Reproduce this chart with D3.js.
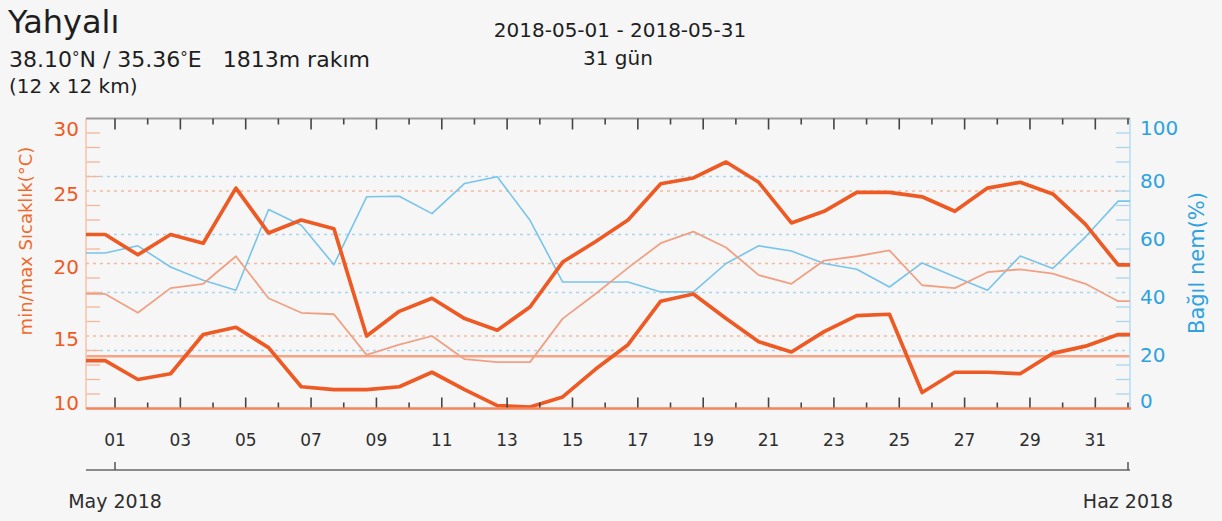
<!DOCTYPE html>
<html>
<head>
<meta charset="utf-8">
<script src="https://cdn.jsdelivr.net/npm/d3@7"></script>
<style>
	body { margin: 0; background: #f6f6f6; }
	svg { display: block; font-family: "DejaVu Sans", sans-serif; }
</style>
</head>
<body>
<svg id="svgChart" width="1222" height="521"></svg>
<script>
// Chart data (one value per day, May 1 .. June 1)
var dayLabels = ["01","03","05","07","09","11","13","15","17","19","21","23","25","27","29","31"];
var tempMax = [22.0, 20.6, 22.0, 21.4, 25.2, 22.1, 23.0, 22.4, 15.0, 16.7, 17.6, 16.2, 15.4, 17.0, 20.1, 21.5,
	23.0, 25.5, 25.9, 27.0, 25.6, 22.8, 23.6, 24.9, 24.9, 24.6, 23.6, 25.2, 25.6, 24.8, 22.7, 19.9];
var tempMean = [17.9, 16.6, 18.3, 18.6, 20.5, 17.6, 16.6, 16.5, 13.7, 14.4, 15.0, 13.4, 13.2, 13.2, 16.2, 17.9,
	19.7, 21.4, 22.2, 21.1, 19.2, 18.6, 20.2, 20.5, 20.9, 18.5, 18.3, 19.4, 19.6, 19.3, 18.6, 17.4];
var tempMin = [13.3, 12.0, 12.4, 15.1, 15.6, 14.2, 11.5, 11.3, 11.3, 11.5, 12.5, 11.3, 10.2, 10.1, 10.8, 12.7,
	14.4, 17.4, 17.9, 16.2, 14.6, 13.9, 15.3, 16.4, 16.5, 11.1, 12.5, 12.5, 12.4, 13.8, 14.3, 15.1];
var humidity = [53.6, 56.1, 48.8, 44.2, 40.8, 68.6, 63.2, 49.6, 73.0, 73.2, 67.2, 77.6, 79.9, 64.9, 43.6, 43.6,
	43.6, 40.2, 40.2, 50.0, 56.1, 54.3, 50.0, 48.0, 41.9, 50.2, 45.4, 40.8, 52.6, 48.3, 59.2, 71.5];
var tempTicks = [10, 15, 20, 25, 30];
var humTicks = [0, 20, 40, 60, 80, 100];
var refTemp = 13.6;

var wx = [];
wx.plot = {left: 86, right: 1130, top: 118.5, bottom: 408.5};
wx.orange = "#ee5a24";
wx.blue = "#2ea2e0";

wx.init = () => {
	let svg = d3.select("#svgChart");
	let p = wx.plot;

	// Scales
	let x = d3.scaleLinear().domain([1, 32]).range([115, 1128]),
		yT = d3.scaleLinear().domain([10, 30]).range([p.bottom, p.top]),
		yH = d3.scaleLinear().domain([0, 100]).range([p.bottom, p.top]);

	wx.drawHeader(svg);

	// Grid lines
	svg.selectAll(".gridH")
		.data([20, 40, 60, 80])
		.enter()
		.append("line")
		.attr("x1", p.left).attr("x2", p.right)
		.attr("y1", d => yH(d)).attr("y2", d => yH(d))
		.style("stroke", "#a9d5ee")
		.style("stroke-width", 1.5)
		.style("stroke-dasharray", "3,4");

	svg.selectAll(".gridT")
		.data([15, 20, 25])
		.enter()
		.append("line")
		.attr("x1", p.left).attr("x2", p.right)
		.attr("y1", d => yT(d)).attr("y2", d => yT(d))
		.style("stroke", "#f3b99c")
		.style("stroke-width", 1.5)
		.style("stroke-dasharray", "3,4");

	// Reference line
	svg.append("line")
		.attr("x1", p.left).attr("x2", p.right)
		.attr("y1", yT(refTemp)).attr("y2", yT(refTemp))
		.style("stroke", "#f6a386")
		.style("stroke-width", 2.5);

	// Minor ticks on the side axes
	let minorT = d3.range(11, 30).filter(d => d % 5 != 0);
	svg.selectAll(".mtT")
		.data(minorT)
		.enter()
		.append("line")
		.attr("x1", p.left).attr("x2", p.left + 14)
		.attr("y1", d => yT(d)).attr("y2", d => yT(d))
		.style("stroke", "#f5b59a")
		.style("stroke-width", 1.3);

	let minorH = d3.range(5, 100, 5).filter(d => d % 20 != 0);
	svg.selectAll(".mtH")
		.data(minorH)
		.enter()
		.append("line")
		.attr("x1", p.right - 14).attr("x2", p.right)
		.attr("y1", d => yH(d)).attr("y2", d => yH(d))
		.style("stroke", "#a9d5ee")
		.style("stroke-width", 1.3);

	// Axis lines
	svg.append("line")
		.attr("x1", p.left).attr("x2", p.left)
		.attr("y1", p.top).attr("y2", p.bottom)
		.style("stroke", "#f7c2aa").style("stroke-width", 1.5);
	svg.append("line")
		.attr("x1", p.right).attr("x2", p.right)
		.attr("y1", p.top).attr("y2", p.bottom)
		.style("stroke", "#b5dcf2").style("stroke-width", 1.5);

	// Series
	svg.append("clipPath").attr("id", "plotClip")
		.append("rect")
		.attr("x", p.left).attr("y", p.top - 5)
		.attr("width", p.right - p.left).attr("height", p.bottom - p.top + 10);

	let g = svg.append("g").attr("clip-path", "url(#plotClip)");
	wx.drawSeries(g, x, yH, humidity, "#78c4ea", 1.6);
	wx.drawSeries(g, x, yT, tempMean, "#f0a184", 1.8);
	wx.drawSeries(g, x, yT, tempMax, wx.orange, 3.7);
	wx.drawSeries(g, x, yT, tempMin, wx.orange, 3.7);

	// Top and bottom axes
	svg.append("line")
		.attr("x1", p.left).attr("x2", p.right)
		.attr("y1", p.top).attr("y2", p.top)
		.style("stroke", "#9a9a9a").style("stroke-width", 2);
	svg.append("line")
		.attr("x1", p.left).attr("x2", p.right + 1)
		.attr("y1", p.bottom).attr("y2", p.bottom)
		.style("stroke", "#f3845c").style("stroke-width", 2.5);

	let days = d3.range(1, 33);
	svg.selectAll(".tickTop")
		.data(days)
		.enter()
		.append("line")
		.attr("x1", d => x(d)).attr("x2", d => x(d))
		.attr("y1", p.top).attr("y2", d => p.top + (d % 2 ? 11 : 6))
		.style("stroke", "#444").style("stroke-width", 1.6);
	svg.selectAll(".tickBottom")
		.data(days)
		.enter()
		.append("line")
		.attr("x1", d => x(d)).attr("x2", d => x(d))
		.attr("y1", p.bottom - 1).attr("y2", d => p.bottom - (d % 2 ? 11 : 6))
		.style("stroke", "#444").style("stroke-width", 1.6);

	// Day labels
	svg.selectAll(".dayLbl")
		.data(dayLabels)
		.enter()
		.append("text")
		.attr("x", d => x(+d))
		.attr("y", 446)
		.style("text-anchor", "middle")
		.style("font-size", "17px")
		.style("fill", "#2e2e2e")
		.text(d => d);

	// Side labels
	svg.selectAll(".lblT")
		.data(tempTicks)
		.enter()
		.append("text")
		.attr("x", 79)
		.attr("y", d => Math.min(Math.max(yT(d) + 3, 129), 403) + 7)
		.style("text-anchor", "end")
		.style("font-size", "20px")
		.style("fill", wx.orange)
		.text(d => d);

	svg.selectAll(".lblH")
		.data(humTicks)
		.enter()
		.append("text")
		.attr("x", 1140)
		.attr("y", d => Math.min(Math.max(yH(d) + 4, 128), 401) + 7)
		.style("text-anchor", "start")
		.style("font-size", "20px")
		.style("fill", wx.blue)
		.text(d => d);

	svg.append("text")
		.attr("transform", "translate(32,241) rotate(-90)")
		.style("text-anchor", "middle")
		.style("font-size", "18px")
		.style("fill", "#f06a2c")
		.text("min/max Sıcaklık(°C)");

	svg.append("text")
		.attr("transform", "translate(1204,263) rotate(-90)")
		.style("text-anchor", "middle")
		.style("font-size", "21px")
		.style("fill", wx.blue)
		.text("Bağıl nem(%)");

	// Month timeline
	svg.append("line")
		.attr("x1", p.left).attr("x2", p.right)
		.attr("y1", 470).attr("y2", 470)
		.style("stroke", "#8a8a8a").style("stroke-width", 2);
	svg.selectAll(".monthTick")
		.data([1, 32])
		.enter()
		.append("line")
		.attr("x1", d => x(d)).attr("x2", d => x(d))
		.attr("y1", 462).attr("y2", 470)
		.style("stroke", "#555").style("stroke-width", 1.5);
	svg.selectAll(".monthLbl")
		.data([[1, "May 2018"], [32, "Haz 2018"]])
		.enter()
		.append("text")
		.attr("x", d => x(d[0]))
		.attr("y", 508)
		.style("text-anchor", "middle")
		.style("font-size", "19px")
		.style("fill", "#2e2e2e")
		.text(d => d[1]);
}

// Draw one daily series, held flat out to the plot edges
wx.drawSeries = (g, x, y, values, color, width) => {
	let p = wx.plot;
	let pts = values.map((v, i) => [x(i + 0.7), y(v)]);
	pts.unshift([p.left, y(values[0])]);
	pts.push([p.right, y(values[values.length - 1])]);

	g.append("path")
		.datum(pts)
		.attr("d", d3.line())
		.style("fill", "none")
		.style("stroke", color)
		.style("stroke-width", width)
		.style("stroke-linejoin", "round");
}

wx.drawHeader = (svg) => {
	svg.append("text")
		.attr("x", 8).attr("y", 33)
		.style("font-size", "32px")
		.style("fill", "#1e1e1e")
		.text("Yahyalı");

	let line2 = svg.append("text")
		.attr("x", 9).attr("y", 67)
		.style("font-size", "22px")
		.style("fill", "#1e1e1e")
		.style("white-space", "pre");
	line2.append("tspan").text("38.10");
	line2.append("tspan").attr("dy", -4).style("font-size", "15px").text("°");
	line2.append("tspan").attr("dy", 4).text("N / 35.36");
	line2.append("tspan").attr("dy", -4).style("font-size", "15px").text("°");
	line2.append("tspan").attr("dy", 4).text("E   1813m rakım");

	svg.append("text")
		.attr("x", 9).attr("y", 93)
		.style("font-size", "20px")
		.style("fill", "#1e1e1e")
		.text("(12 x 12 km)");
	svg.append("text")
		.attr("x", 620).attr("y", 37)
		.style("text-anchor", "middle")
		.style("font-size", "20px")
		.style("fill", "#1e1e1e")
		.text("2018-05-01 - 2018-05-31");
	svg.append("text")
		.attr("x", 618).attr("y", 65)
		.style("text-anchor", "middle")
		.style("font-size", "20px")
		.style("fill", "#1e1e1e")
		.text("31 gün");
}

wx.init();
</script>
</body>
</html>
